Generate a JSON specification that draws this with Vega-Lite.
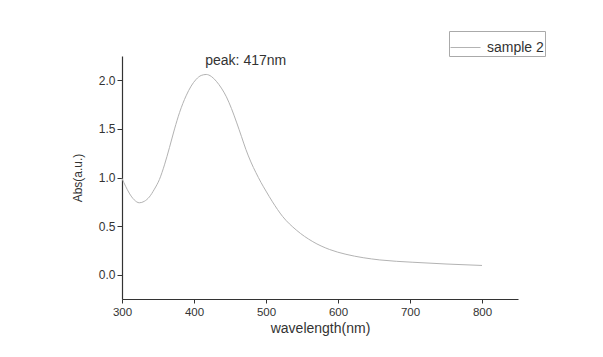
{
  "$schema": "https://vega.github.io/schema/vega-lite/v6.json",
  "autosize": {"type": "none"},
  "width": 396,
  "height": 243,
  "padding": {"left": 122, "top": 56, "right": 85, "bottom": 58},
  "background": "white",
  "config": {
    "view": {"stroke": null},
    "font": "Liberation Sans",
    "axis": {"domainColor": "#333", "tickColor": "#333", "labelColor": "#333", "titleColor": "#333", "grid": false, "domainWidth": 1.2, "tickWidth": 1}
  },
  "datasets": {
    "spectrum": [
      {"wavelength": 300, "absorbance": 0.99, "series": "sample 2"},
      {"wavelength": 305, "absorbance": 0.91, "series": "sample 2"},
      {"wavelength": 310, "absorbance": 0.84, "series": "sample 2"},
      {"wavelength": 317, "absorbance": 0.77, "series": "sample 2"},
      {"wavelength": 324, "absorbance": 0.74, "series": "sample 2"},
      {"wavelength": 331, "absorbance": 0.755, "series": "sample 2"},
      {"wavelength": 338, "absorbance": 0.80, "series": "sample 2"},
      {"wavelength": 345, "absorbance": 0.88, "series": "sample 2"},
      {"wavelength": 352, "absorbance": 0.98, "series": "sample 2"},
      {"wavelength": 359, "absorbance": 1.13, "series": "sample 2"},
      {"wavelength": 366, "absorbance": 1.31, "series": "sample 2"},
      {"wavelength": 373, "absorbance": 1.50, "series": "sample 2"},
      {"wavelength": 380, "absorbance": 1.67, "series": "sample 2"},
      {"wavelength": 389, "absorbance": 1.84, "series": "sample 2"},
      {"wavelength": 396, "absorbance": 1.94, "series": "sample 2"},
      {"wavelength": 403, "absorbance": 2.01, "series": "sample 2"},
      {"wavelength": 410, "absorbance": 2.05, "series": "sample 2"},
      {"wavelength": 417, "absorbance": 2.06, "series": "sample 2"},
      {"wavelength": 424, "absorbance": 2.04, "series": "sample 2"},
      {"wavelength": 431, "absorbance": 1.99, "series": "sample 2"},
      {"wavelength": 438, "absorbance": 1.92, "series": "sample 2"},
      {"wavelength": 445, "absorbance": 1.83, "series": "sample 2"},
      {"wavelength": 452, "absorbance": 1.71, "series": "sample 2"},
      {"wavelength": 459, "absorbance": 1.57, "series": "sample 2"},
      {"wavelength": 466, "absorbance": 1.42, "series": "sample 2"},
      {"wavelength": 472, "absorbance": 1.29, "series": "sample 2"},
      {"wavelength": 479, "absorbance": 1.16, "series": "sample 2"},
      {"wavelength": 486, "absorbance": 1.05, "series": "sample 2"},
      {"wavelength": 493, "absorbance": 0.95, "series": "sample 2"},
      {"wavelength": 500, "absorbance": 0.86, "series": "sample 2"},
      {"wavelength": 509, "absorbance": 0.75, "series": "sample 2"},
      {"wavelength": 523, "absorbance": 0.60, "series": "sample 2"},
      {"wavelength": 542, "absorbance": 0.46, "series": "sample 2"},
      {"wavelength": 565, "absorbance": 0.34, "series": "sample 2"},
      {"wavelength": 588, "absorbance": 0.26, "series": "sample 2"},
      {"wavelength": 611, "absorbance": 0.21, "series": "sample 2"},
      {"wavelength": 635, "absorbance": 0.175, "series": "sample 2"},
      {"wavelength": 658, "absorbance": 0.152, "series": "sample 2"},
      {"wavelength": 704, "absorbance": 0.128, "series": "sample 2"},
      {"wavelength": 750, "absorbance": 0.11, "series": "sample 2"},
      {"wavelength": 800, "absorbance": 0.095, "series": "sample 2"}
    ],
    "annotation": [
      {"wavelength": 417, "absorbance": 2.06, "label": "peak: 417nm"}
    ]
  },
  "layer": [
    {
      "data": {"name": "spectrum"},
      "mark": {"type": "line", "strokeWidth": 1, "interpolate": "monotone"},
      "encoding": {
        "x": {
          "field": "wavelength", "type": "quantitative",
          "scale": {"domain": [300, 850], "nice": false, "zero": false},
          "axis": {
            "title": "wavelength(nm)", "titleFontSize": 14, "titleFontWeight": "normal", "titlePadding": 4,
            "values": [300, 350, 400, 450, 500, 550, 600, 650, 700, 750, 800, 850],
            "labelExpr": "datum.value % 100 == 0 && datum.value < 850 ? datum.label : ''",
            "labelFontSize": 11.5, "tickSize": 4, "labelPadding": 3, "labelFlush": false
          }
        },
        "y": {
          "field": "absorbance", "type": "quantitative",
          "scale": {"domain": [-0.25, 2.25], "nice": false, "zero": false},
          "axis": {
            "title": "Abs(a.u.)", "titleFontSize": 12, "titleFontWeight": "normal", "titlePadding": 14,
            "values": [0, 0.5, 1, 1.5, 2],
            "format": ".1f",
            "labelFontSize": 12
          }
        },
        "color": {
          "field": "series", "type": "nominal",
          "scale": {"range": ["#b3b3b3"]},
          "legend": {
            "title": null, "orient": "none", "legendX": 327, "legendY": -25,
            "symbolType": "stroke", "symbolSize": 900, "symbolStrokeWidth": 1,
            "labelFontSize": 14, "labelColor": "#333", "strokeColor": "#aaa",
            "padding": 1, "labelOffset": 6, "fillColor": "white"
          }
        }
      }
    },
    {
      "data": {"name": "annotation"},
      "mark": {"type": "text", "align": "left", "baseline": "bottom", "dx": -1, "dy": -6, "fontSize": 14, "color": "#333"},
      "encoding": {
        "x": {"field": "wavelength", "type": "quantitative"},
        "y": {"field": "absorbance", "type": "quantitative"},
        "text": {"field": "label"}
      }
    }
  ]
}
